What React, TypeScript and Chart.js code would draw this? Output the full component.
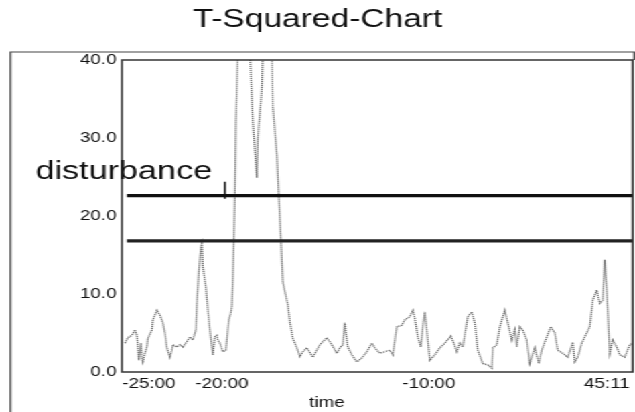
import React, { useEffect, useRef } from "react";
import { Chart, registerables } from "chart.js";

Chart.register(...registerables);

const chartTitle = "T-Squared-Chart";
const xAxisTitle = "time";
const disturbanceLabel = "disturbance";

// sample number along the time axis and the T-squared statistic
const sampleIdx = [3, 6, 10, 13, 15, 16, 17, 19, 20, 21, 23, 25, 26, 30, 31, 35, 38, 41, 43, 45, 48, 50, 51, 55, 58, 61, 65, 68, 71, 74, 75, 77, 79, 80, 81, 84, 86, 88, 90, 91, 93, 95, 96, 98, 101, 104, 105, 107, 109, 110, 111, 112, 113, 114, 116, 118, 122, 126, 128, 131, 135, 136, 140, 141, 146, 150, 151, 155, 157, 159, 161, 166, 168, 171, 175, 178, 181, 185, 191, 198, 205, 210, 215, 218, 221, 223, 225, 226, 230, 235, 240, 245, 250, 253, 258, 263, 268, 271, 275, 280, 283, 288, 291, 293, 296, 299, 301, 303, 305, 308, 313, 318, 323, 329, 332, 335, 338, 341, 346, 350, 353, 356, 361, 366, 370, 371, 375, 378, 383, 386, 390, 393, 395, 398, 401, 405, 408, 413, 417, 420, 425, 429, 433, 436, 441, 446, 451, 453, 456, 460, 463, 468, 471, 475, 478, 481, 483, 485, 486, 488, 491, 495, 498, 503, 508, 511];
const t2Values = [3.7, 4.4, 4.7, 5.4, 4.7, 3.2, 1.5, 3.7, 1.9, 1.3, 2.4, 3.2, 4.3, 5.4, 6.7, 7.9, 7.3, 6.3, 5.0, 3.1, 1.9, 2.8, 3.5, 3.2, 3.5, 3.2, 3.9, 4.5, 4.1, 5.4, 8.8, 13, 16.0, 16.5, 13.5, 10.9, 7.9, 5.4, 3.2, 2.2, 4.5, 4.7, 4.1, 3.7, 2.6, 2.8, 4.1, 6.7, 7.6, 8.4, 12, 17, 22.4, 32, 41, 46, 48, 44, 41, 32, 24.9, 30, 36.4, 41, 47, 41, 34, 27.8, 22.4, 17, 11.5, 8.6, 6.4, 4.3, 3.1, 2.0, 2.6, 3.1, 1.9, 3.5, 4.4, 3.5, 2.4, 3.1, 3.5, 6.3, 4.1, 3.2, 2.2, 1.3, 1.8, 2.6, 3.7, 3.1, 2.4, 2.6, 2.8, 2.2, 5.8, 6.0, 6.7, 7.1, 7.9, 6.9, 4.5, 3.2, 5.8, 7.7, 5.4, 1.5, 2.2, 3.1, 3.7, 4.6, 3.7, 2.6, 3.7, 3.2, 7.1, 7.7, 6.3, 2.8, 1.1, 0.9, 0.5, 3.1, 3.5, 5.8, 7.9, 6.3, 4.1, 5.4, 3.2, 5.8, 5.4, 4.1, 1.1, 3.1, 1.1, 2.8, 4.5, 5.8, 5.0, 2.8, 2.4, 1.9, 3.8, 1.3, 1.9, 3.7, 4.5, 5.8, 9.2, 10.5, 8.8, 9.2, 14.4, 10.5, 7.9, 2.4, 4.1, 3.2, 2.2, 1.9, 3.5, 3.7];

// control limits
const upperLimit = 22.6;
const lowerLimit = 16.8;
const limitStart = 5;
const limitEnd = 511;

// disturbance marker
const disturbanceSample = 103;
const disturbanceRange = [22.2, 24.4];

// axes
const xMin = 0;
const xMax = 511;
const tickSamples = [27, 100, 307, 485];
const tickLabels = ["-25:00", "-20:00", "-10:00", "45:11"];
const yMin = 0;
const yMax = 40;
const yStep = 10;

const STRETCH = 635 / 474;
const FONT = "'Liberation Sans', Arial, Helvetica, sans-serif";

const decorPlugin = {
  id: "decor",
  afterDraw(chart: any) {
    const { ctx, chartArea: a, scales } = chart;
    ctx.save();
    // outer frame
    ctx.strokeStyle = "#444";
    ctx.lineWidth = 1.2;
    ctx.beginPath();
    ctx.moveTo(7.8, 412);
    ctx.lineTo(7.8, 52);
    ctx.lineTo(473.3, 52);
    ctx.lineTo(473.3, 60);
    ctx.stroke();
    // plot frame
    ctx.strokeStyle = "#333";
    ctx.lineWidth = 1.5;
    ctx.strokeRect(a.left, a.top, a.right - a.left, a.bottom - a.top);
    // disturbance marker
    const dx = scales.x.getPixelForValue(disturbanceSample);
    ctx.strokeStyle = "#111";
    ctx.lineWidth = 1.5;
    ctx.beginPath();
    ctx.moveTo(dx, scales.y.getPixelForValue(disturbanceRange[0]));
    ctx.lineTo(dx, scales.y.getPixelForValue(disturbanceRange[1]));
    ctx.stroke();
    // texts
    ctx.fillStyle = "#111";
    ctx.font = `25px ${FONT}`;
    ctx.textAlign = "center";
    ctx.textBaseline = "middle";
    ctx.fillText(chartTitle, 237, 20);
    ctx.textAlign = "left";
    ctx.textBaseline = "alphabetic";
    ctx.font = `25.5px ${FONT}`;
    ctx.fillText(disturbanceLabel, 26.5, 179);
    ctx.textAlign = "center";
    ctx.textBaseline = "middle";
    ctx.font = `14px ${FONT}`;
    ctx.fillText(xAxisTitle, 244, 403);
    ctx.restore();
  },
};

export default function App() {
  const ref = useRef<HTMLCanvasElement | null>(null);
  useEffect(() => {
    document.body.style.margin = "0";
    document.body.style.overflow = "hidden";
    const canvas = ref.current;
    if (!canvas) return;
    const seriesPoints = sampleIdx.map((s, i) => ({ x: s, y: t2Values[i] }));
    const upperPoints = [
      { x: limitStart, y: upperLimit },
      { x: limitEnd, y: upperLimit },
    ];
    const lowerPoints = [
      { x: limitStart, y: lowerLimit },
      { x: limitEnd, y: lowerLimit },
    ];
    const chart = new Chart(canvas, {
      type: "line",
      data: {
        datasets: [
          {
            data: seriesPoints,
            borderColor: "#666",
            borderWidth: 1.3,
            borderDash: [1.2, 0.8],
            pointRadius: 0,
            tension: 0,
            order: 2,
          },
          {
            data: upperPoints,
            borderColor: "#111",
            borderWidth: 3.2,
            pointRadius: 0,
            order: 1,
          },
          {
            data: lowerPoints,
            borderColor: "#222",
            borderWidth: 3.2,
            pointRadius: 0,
            order: 1,
          },
        ],
      },
      options: {
        animation: false,
        responsive: true,
        maintainAspectRatio: false,
        layout: { padding: { left: 0, right: 1.6, top: 60, bottom: 0 } },
        plugins: {
          legend: { display: false },
          tooltip: { enabled: false },
          title: { display: false },
        },
        scales: {
          x: {
            type: "linear",
            min: xMin,
            max: xMax,
            grid: { display: false, drawTicks: false },
            border: { display: false },
            afterBuildTicks: (scale: any) => {
              scale.ticks = tickSamples.map((v) => ({ value: v }));
            },
            afterFit: (scale: any) => {
              scale.height = 40;
            },
            ticks: {
              autoSkip: false,
              maxRotation: 0,
              padding: 4,
              color: "#111",
              font: { size: 14, family: FONT },
              callback: (_v: any, i: number) => tickLabels[i],
            },
          },
          y: {
            type: "linear",
            min: yMin,
            max: yMax,
            grid: { display: false, drawTicks: false },
            border: { display: false },
            afterFit: (scale: any) => {
              scale.width = 91;
            },
            ticks: {
              stepSize: yStep,
              padding: 4,
              color: "#111",
              font: { size: 14, family: FONT },
              callback: (v: any) => Number(v).toFixed(1),
            },
          },
        },
      },
      plugins: [decorPlugin],
    });
    return () => chart.destroy();
  }, []);
  return (
    <div
      style={{
        width: "474px",
        height: "412px",
        transform: `scaleX(${STRETCH})`,
        transformOrigin: "0 0",
        background: "#fff",
      }}
    >
      <canvas ref={ref} />
    </div>
  );
}
